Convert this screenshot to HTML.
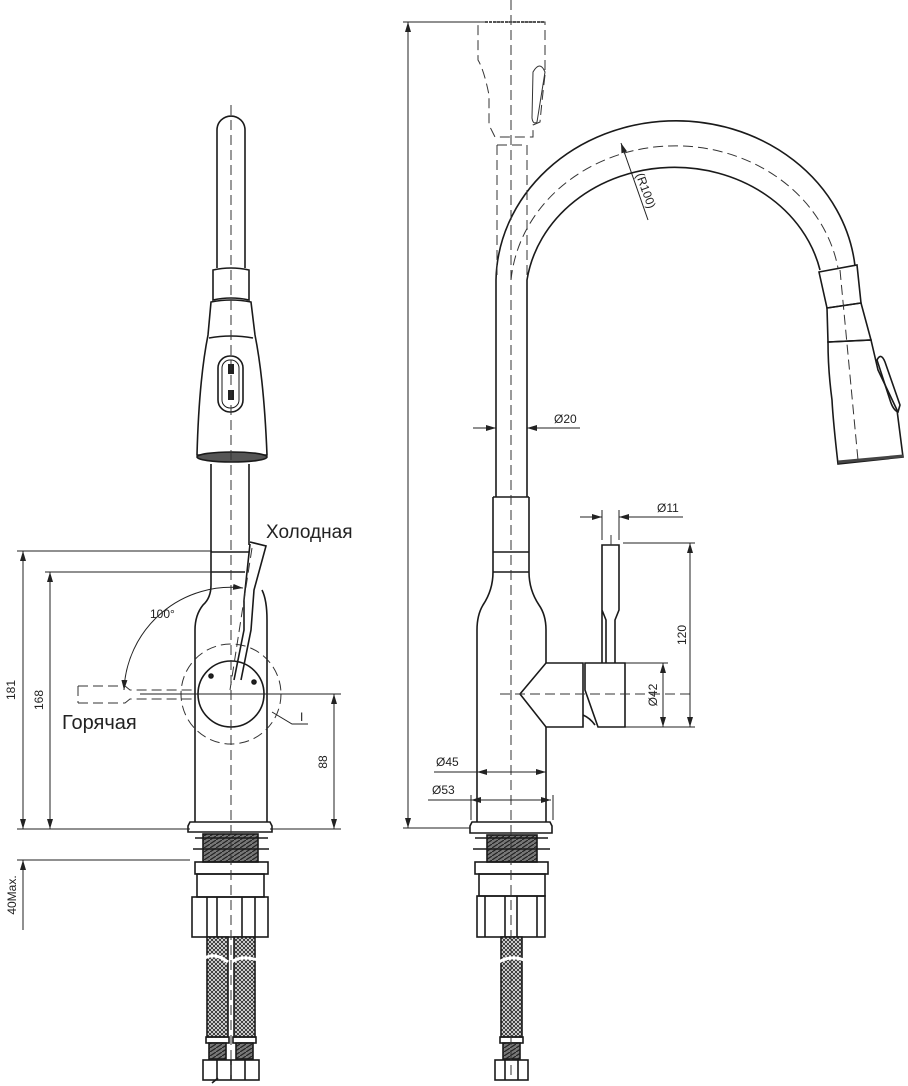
<!DOCTYPE html>
<html><head><meta charset="utf-8"><style>
html,body{margin:0;padding:0;background:#fff}
svg{display:block}
text{font-family:"Liberation Sans",sans-serif;fill:#222}
</style></head><body>
<svg width="908" height="1086" viewBox="0 0 908 1086" xmlns="http://www.w3.org/2000/svg">
<defs>
<marker id="a" viewBox="0 0 10 6" refX="10" refY="3" markerWidth="10" markerHeight="6" orient="auto-start-reverse" markerUnits="userSpaceOnUse"><path d="M0,0L10,3L0,6z" fill="#222"/></marker>
<pattern id="mesh" width="4" height="4" patternUnits="userSpaceOnUse"><rect width="4" height="4" fill="#fff"/><path d="M0,0L4,4M4,0L0,4" stroke="#333" stroke-width="1"/></pattern>
<pattern id="thr" width="6" height="4" patternUnits="userSpaceOnUse"><rect width="6" height="4" fill="#777"/><path d="M0,4L6,0" stroke="#222" stroke-width="1.2"/></pattern>
</defs>
<g fill="none" stroke="#1a1a1a" stroke-width="1.6">
<!-- LEFT VIEW -->
<path d="M217,268V130a14,14 0 0 1 28,0V268"/>
<path d="M213,270Q231,266 249,270V300Q231,296 213,300Z"/>
<path d="M211,302Q231,298 251,302L255,335Q264,380 267,455H197Q199,380 208,335Z"/>
<path d="M209,338Q231,334 253,338"/>
<rect x="218" y="356" width="25" height="56" rx="12"/>
<rect x="222" y="360" width="17" height="48" rx="8" stroke-width="1"/>
<rect x="228" y="364" width="6" height="10" fill="#222" stroke="none"/>
<rect x="228" y="390" width="6" height="10" fill="#222" stroke="none"/>
<ellipse cx="232" cy="457" rx="35" ry="5" fill="#555"/>
<path d="M211,464V585Q211,598 203,605Q195,615 195,630V822"/>
<path d="M249,464V545M262,590Q267,600 267,620V822"/>
<path d="M211,552H249M211,572H245"/>
<path d="M250,542L266,546L254,590L251,630L241,680M234,680L244,630L244,600L250,544"/>
<circle cx="231" cy="694" r="33"/>
<circle cx="211" cy="676" r="2" fill="#222"/><circle cx="254" cy="682" r="2" fill="#222"/>
<!-- base left -->
<path d="M190,822H270L272,826V832H188V826Z"/>
<rect x="203" y="834" width="55" height="28" fill="url(#thr)"/>
<path d="M195,838H268M193,849H269"/>
<rect x="195" y="862" width="73" height="12"/>
<rect x="197" y="874" width="67" height="23"/>
<rect x="192" y="897" width="76" height="40"/>
<path d="M207,897V937M217,897V937M242,897V937M255,897V937"/>
<rect x="207" y="937" width="21" height="100" fill="url(#mesh)"/>
<rect x="234" y="937" width="21" height="100" fill="url(#mesh)"/>
<path d="M205,958Q215,952 228,962M232,962Q240,955 258,960" stroke="#fff" stroke-width="3"/>
<rect x="206" y="1037" width="23" height="6"/><rect x="233" y="1037" width="23" height="6"/>
<rect x="209" y="1043" width="17" height="16" fill="url(#thr)"/><rect x="236" y="1043" width="17" height="16" fill="url(#thr)"/>
<rect x="203" y="1060" width="56" height="20"/>
<path d="M217,1060V1080M231,1060V1080M245,1060V1080"/>
<path d="M212,1083L218,1078"/>
</g>
<g fill="none" stroke="#333" stroke-width="1" stroke-dasharray="10,5">
<path d="M231,105V1080"/>
<circle cx="231" cy="694" r="50"/>
<path d="M78,686H125L130,690H195M78,703H125L130,699H195M78,686V703"/>
<path d="M180,694H260"/>
<path d="M252,548L230,690"/>
</g>
<g fill="none" stroke="#222" stroke-width="1">
<path d="M17,551H212M45,572H212M17,829H190M17,860H190M140,694H341M270,829H341"/>
<path d="M23,551V829" marker-start="url(#a)" marker-end="url(#a)"/>
<path d="M50,572V829" marker-start="url(#a)" marker-end="url(#a)"/>
<path d="M334,694V829" marker-start="url(#a)" marker-end="url(#a)"/>
<path d="M23,930V860" marker-end="url(#a)"/>
<path d="M23,820V829"/>
<path d="M243,588A107,107 0 0 0 124,690" marker-start="url(#a)" marker-end="url(#a)"/>
<path d="M272,712L292,724H308"/>
</g>
<text x="150" y="618" font-size="12">100°</text>
<text x="266" y="538" font-size="19">Холодная</text>
<text x="62" y="729" font-size="20">Горячая</text>
<text x="300" y="721" font-size="12" font-family="Liberation Serif">I</text>
<text transform="translate(15,690) rotate(-90)" font-size="12" text-anchor="middle">181</text>
<text transform="translate(43,700) rotate(-90)" font-size="12" text-anchor="middle">168</text>
<text transform="translate(327,762) rotate(-90)" font-size="12" text-anchor="middle">88</text>
<text transform="translate(16,895) rotate(-90)" font-size="12" text-anchor="middle">40Max.</text>

<!-- RIGHT VIEW -->
<g fill="none" stroke="#1a1a1a" stroke-width="1.6">
<path d="M496,497V280A180,162 0 0 1 855,266"/>
<path d="M527,497V280A149,131 0 0 1 820,270"/>
<path d="M819,272L857,265L861,303L827,308Z"/>
<path d="M827,308L861,303L871,340L828,342Z"/>
<path d="M828,342L871,340L878,370L897,410L903,457L838,464Q833,420 832,400Q828,370 828,342Z"/>
<path d="M877,360Q881,352 885,362L900,405L898,412Q893,410 890,400Z"/>
<path d="M838,462L903,456" stroke-width="3" stroke="#444"/>
<path d="M493,497V572Q493,590 483,605Q477,615 477,630V822"/>
<path d="M529,497V572Q529,590 539,605Q546,615 546,630V663M546,727V822"/>
<path d="M493,497H529M493,552H529M493,572H529"/>
<path d="M546,663H583V727H546L520,694Z"/>
<path d="M585,663H625V727H598L585,690Z"/>
<path d="M583,715Q590,718 595,725"/>
<path d="M602,663V545H619V610L615,620V663M606,663V620L602,610"/>
<!-- base right -->
<path d="M472,822H550L552,826V833H470V826Z"/>
<rect x="487" y="835" width="50" height="27" fill="url(#thr)"/>
<path d="M475,838H548M473,849H550"/>
<rect x="475" y="862" width="73" height="12"/>
<rect x="479" y="874" width="66" height="22"/>
<rect x="477" y="896" width="68" height="41"/>
<path d="M485,896V937M505,896V937M517,896V937M537,896V937"/>
<rect x="501" y="937" width="21" height="100" fill="url(#mesh)"/>
<path d="M499,962Q510,955 524,960" stroke="#fff" stroke-width="3"/>
<rect x="500" y="1037" width="23" height="6"/>
<rect x="503" y="1043" width="17" height="16" fill="url(#thr)"/>
<rect x="495" y="1060" width="33" height="20"/>
<path d="M505,1060V1080M518,1060V1080"/>
</g>
<g fill="none" stroke="#333" stroke-width="1" stroke-dasharray="10,5">
<path d="M511,0V1080"/>
<path d="M478,22H545V75Q542,100 540,122L533,125V137L495,137L489,125V95Q484,70 478,60Z"/>
<path d="M497,145H527V280M497,145V280"/>
<path d="M511,280A165,147 0 0 1 838,268"/>
<path d="M840,270L858,460"/>
<path d="M500,694H690"/>
<path d="M611,535V545"/>
</g>
<path d="M533,72Q540,60 545,72L537,122Q533,125 532,118Z" fill="none" stroke="#333" stroke-width="1"/>
<path d="M485,22H545" stroke="#555" stroke-width="2" stroke-dasharray="3,1"/>
<g fill="none" stroke="#222" stroke-width="1">
<path d="M403,22H480M403,828H470"/>
<path d="M408,22V828" marker-start="url(#a)" marker-end="url(#a)"/>
<path d="M648,220L621,143" marker-end="url(#a)"/>
<path d="M473,428H496" marker-end="url(#a)"/><path d="M580,428H527" marker-end="url(#a)"/>
<path d="M580,517H602" marker-end="url(#a)"/><path d="M683,517H619" marker-end="url(#a)"/>
<path d="M602,510V540M619,510V540"/>
<path d="M623,543H695M625,727H695M625,663H668"/>
<path d="M690,543V727" marker-start="url(#a)" marker-end="url(#a)"/>
<path d="M663,663V727" marker-start="url(#a)" marker-end="url(#a)"/>
<path d="M434,772H546" marker-end="url(#a)"/><path d="M520,772H477" marker-end="url(#a)"/>
<path d="M428,800H551" marker-end="url(#a)"/><path d="M520,800H471" marker-end="url(#a)"/>
<path d="M471,795V820M553,795V820"/>
</g>
<text x="554" y="423" font-size="12">Ø20</text>
<text x="657" y="512" font-size="12">Ø11</text>
<text x="436" y="766" font-size="12">Ø45</text>
<text x="432" y="794" font-size="12">Ø53</text>
<text transform="translate(686,635) rotate(-90)" font-size="12" text-anchor="middle">120</text>
<text transform="translate(657,695) rotate(-90)" font-size="12" text-anchor="middle">Ø42</text>
<text transform="translate(642,192) rotate(70)" font-size="12" text-anchor="middle">(R100)</text>
</svg>
</body></html>
